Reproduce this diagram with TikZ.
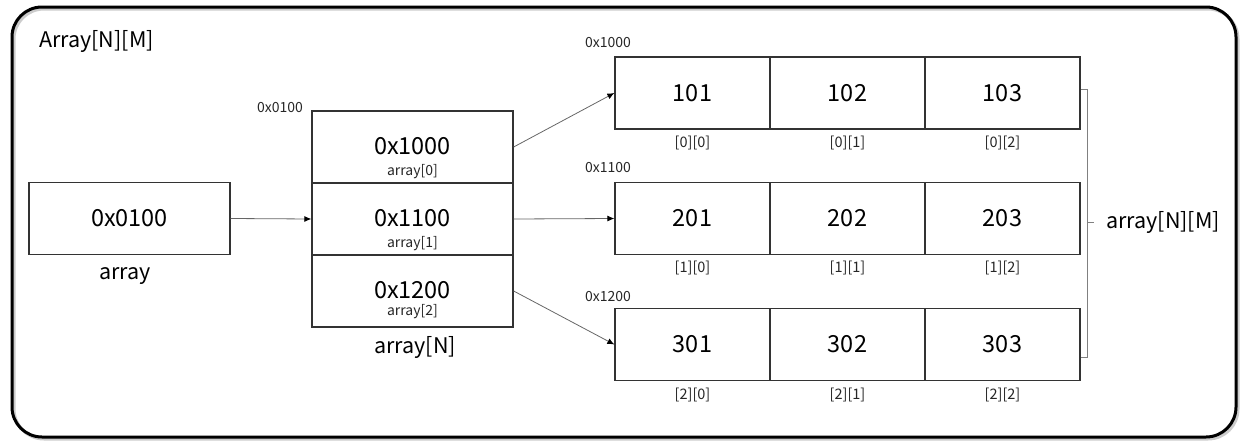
\documentclass[tikz,border=0pt]{standalone}
\usepackage{fontspec}
\setmainfont{Noto Sans CJK SC}
\usetikzlibrary{arrows.meta}
\begin{document}
\begin{tikzpicture}[x=1pt,y=-1pt,
  box/.style={draw=black!80, line width=1.3pt, inner sep=0pt, minimum height=72pt},
  pcell/.style={box, minimum width=201pt},
  vcell/.style={box, minimum width=155pt, font=\fontsize{23.5}{25}\selectfont},
  big/.style={inner sep=0pt, font=\fontsize{23.5}{25}\selectfont},
  small/.style={inner sep=0pt, font=\fontsize{14}{16}\selectfont, text=black!85},
  idx/.style={inner sep=0pt, font=\fontsize{14.5}{16}\selectfont, text=black!85},
  lbl/.style={inner sep=0pt, font=\fontsize{21.5}{24}\selectfont},
  arr/.style={draw=black!60, line width=0.8pt, -{Latex[length=7pt,width=6pt,color=black]}},
  brace/.style={draw=black!50, line width=0.8pt}
]
\useasboundingbox (0,0) rectangle (1247,447);
% outer frame
\draw[line width=3pt, black!20, rounded corners=30pt] (14,9) rectangle (1238,439);
\draw[line width=3pt, rounded corners=30pt] (12,7) rectangle (1236,437);
\node[lbl, anchor=west] (title) at (39,42) {Array[N][M]};

% pointer variable
\node[pcell] (p) at (129.5,218.5) {};
\node[big] (pt) at (129.5,218.5) {0x0100};
\node[lbl] (plab) at (125,276) {array};

% array of pointers
\node[small] (maddr) at (280,108) {0x0100};
\node[pcell] (m0) at (412.5,147) {};
\node[pcell] (m1) at (412.5,219) {};
\node[pcell] (m2) at (412.5,291) {};
\node[big] (m0t) at (412.5,146.5) {0x1000};
\node[small] (m0s) at (412.5,172) {array[0]};
\node[big] (m1t) at (412.5,218) {0x1100};
\node[small] (m1s) at (412.5,244) {array[1]};
\node[big] (m2t) at (412.5,290) {0x1200};
\node[small] (m2s) at (412.5,312) {array[2]};
\node[lbl] (mlab) at (415,347) {array[N]};

% rows
\node[small] (a0) at (608,43) {0x1000};
\node[small] (a1) at (608,168) {0x1100};
\node[small] (a2) at (608,297) {0x1200};

\node[vcell] (r00) at (692.5,93) {101};
\node[vcell] (r01) at (847.5,93) {102};
\node[vcell] (r02) at (1002.5,93) {103};
\node[vcell] (r10) at (692.5,218.5) {201};
\node[vcell] (r11) at (847.5,218.5) {202};
\node[vcell] (r12) at (1002.5,218.5) {203};
\node[vcell] (r20) at (692.5,344.5) {301};
\node[vcell] (r21) at (847.5,344.5) {302};
\node[vcell] (r22) at (1002.5,344.5) {303};

\node[idx] (i00) at (692.5,143) {[0][0]};
\node[idx] (i01) at (847.5,143) {[0][1]};
\node[idx] (i02) at (1002.5,143) {[0][2]};
\node[idx] (i10) at (692.5,268) {[1][0]};
\node[idx] (i11) at (847.5,268) {[1][1]};
\node[idx] (i12) at (1002.5,268) {[1][2]};
\node[idx] (i20) at (692.5,395) {[2][0]};
\node[idx] (i21) at (847.5,395) {[2][1]};
\node[idx] (i22) at (1002.5,395) {[2][2]};

% arrows
\draw[arr] (p.east) -- (m1.west);
\draw[arr] (m0.east) -- (r00.west);
\draw[arr] (m1.east) -- (r10.west);
\draw[arr] (m2.east) -- (r20.west);

% brace
\coordinate (bt) at (1081,89);
\coordinate (bb) at (1081,357);
\coordinate (bm) at (1094,222);
\node[lbl, anchor=west] (blab) at (1106,222) {array[N][M]};
\draw[brace] (bt) -- (1087,89) -- (1087,357) -- (bb);
\draw[brace] (1087,222) -- (bm);
\end{tikzpicture}
\end{document}
